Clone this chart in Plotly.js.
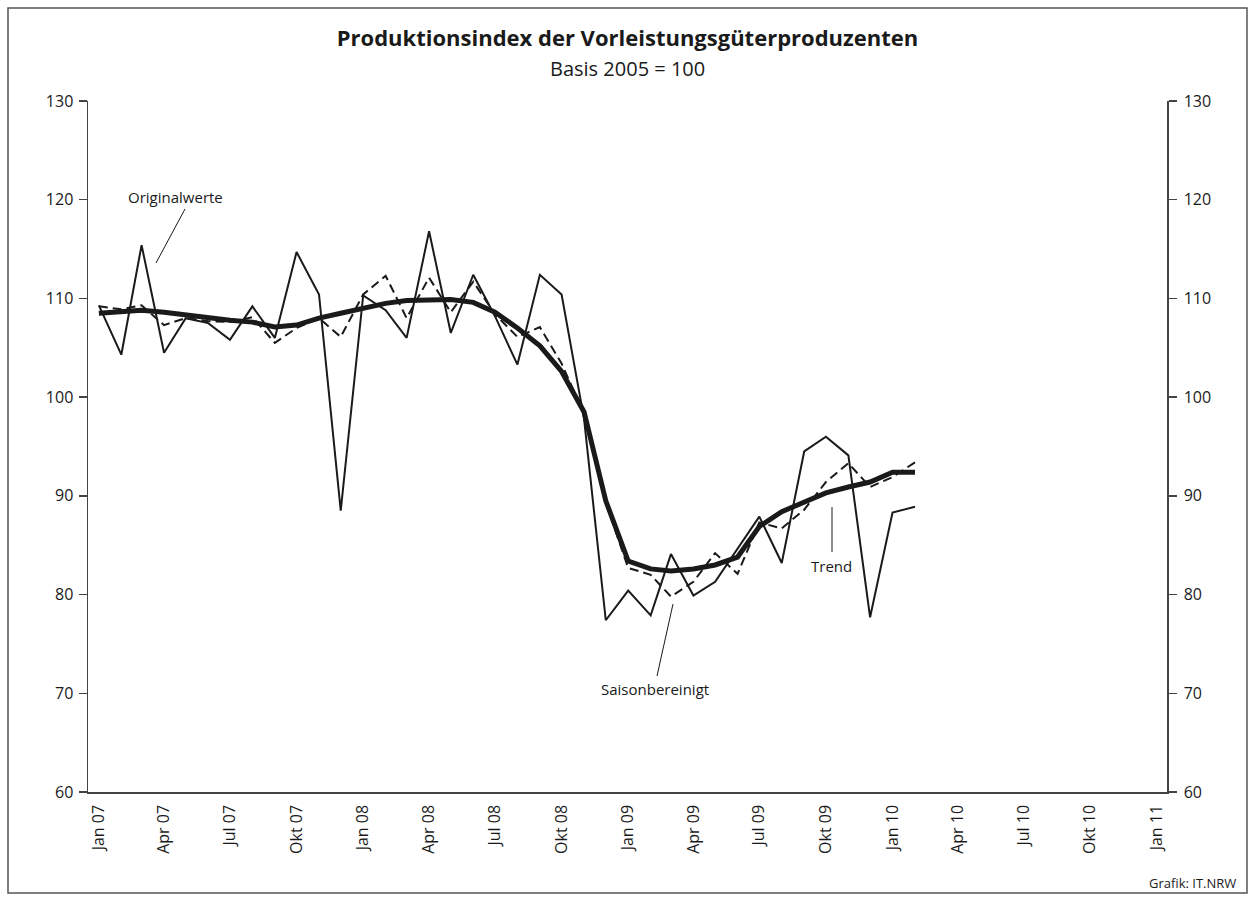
<!DOCTYPE html>
<html>
<head>
<meta charset="utf-8">
<script src="https://cdn.plot.ly/plotly-3.0.1.min.js"></script>
<style>
  html, body { margin: 0; padding: 0; background: #ffffff; }
  #chart { width: 1254px; height: 901px; }
</style>
</head>
<body>
<div id="chart"></div>
<script>
// Months (Jan 2007 – Feb 2010)
var months = [
  "2007-01-01","2007-02-01","2007-03-01","2007-04-01","2007-05-01","2007-06-01",
  "2007-07-01","2007-08-01","2007-09-01","2007-10-01","2007-11-01","2007-12-01",
  "2008-01-01","2008-02-01","2008-03-01","2008-04-01","2008-05-01","2008-06-01",
  "2008-07-01","2008-08-01","2008-09-01","2008-10-01","2008-11-01","2008-12-01",
  "2009-01-01","2009-02-01","2009-03-01","2009-04-01","2009-05-01","2009-06-01",
  "2009-07-01","2009-08-01","2009-09-01","2009-10-01","2009-11-01","2009-12-01",
  "2010-01-01","2010-02-01"
];

var originalwerte = [
  109.3, 104.3, 115.4, 104.5, 108.0, 107.5, 105.8, 109.2, 106.0, 114.7, 110.4, 88.5,
  110.3, 108.8, 106.0, 116.8, 106.5, 112.4, 108.2, 103.3, 112.4, 110.4, 97.8, 77.4,
  80.4, 77.9, 84.1, 79.9, 81.3, 84.6, 87.9, 83.2, 94.5, 96.0, 94.1, 77.7,
  88.3, 88.9
];

var saisonbereinigt = [
  109.2, 108.9, 109.3, 107.3, 108.0, 107.7, 107.6, 108.1, 105.5, 107.0, 108.0, 106.1,
  110.4, 112.3, 108.0, 112.1, 108.6, 111.7, 108.4, 106.1, 107.1, 103.4, 98.3, 89.3,
  82.7, 82.0, 79.8, 81.3, 84.2, 82.1, 87.3, 86.7, 88.6, 91.4, 93.3, 90.9,
  91.9, 93.4
];

var trend = [
  108.5, 108.7, 108.8, 108.6, 108.3, 108.0, 107.8, 107.6, 107.1, 107.3, 108.0, 108.5,
  109.0, 109.5, 109.8, 109.9, 109.9, 109.6, 108.6, 107.0, 105.2, 102.6, 98.5, 89.5,
  83.4, 82.6, 82.4, 82.6, 83.0, 83.8, 86.9, 88.4, 89.4, 90.3, 90.9, 91.4,
  92.4, 92.4
];

var tickDates = [
  "2007-01-01","2007-04-01","2007-07-01","2007-10-01",
  "2008-01-01","2008-04-01","2008-07-01","2008-10-01",
  "2009-01-01","2009-04-01","2009-07-01","2009-10-01",
  "2010-01-01","2010-04-01","2010-07-01","2010-10-01",
  "2011-01-01"
];
var tickLabels = [
  "Jan 07","Apr 07","Jul 07","Okt 07",
  "Jan 08","Apr 08","Jul 08","Okt 08",
  "Jan 09","Apr 09","Jul 09","Okt 09",
  "Jan 10","Apr 10","Jul 10","Okt 10",
  "Jan 11"
];
var yTicks = [60, 70, 80, 90, 100, 110, 120, 130];

// layout geometry (pixels)
var W = 1254, H = 901;
var L = 88, R = 87, T = 101, B = 109;
var plotW = W - L - R, plotH = H - T - B;
function px(x) { return (x - L) / plotW; }
function py(y) { return (H - B - y) / plotH; }

var FONT = "Open Sans, Noto Sans, DejaVu Sans, sans-serif";
var ink = "#1a1a1a";

var traces = [
  {
    x: months, y: originalwerte, type: "scatter", mode: "lines",
    name: "Originalwerte",
    line: { color: ink, width: 2 }, hoverinfo: "x+y"
  },
  {
    x: months, y: saisonbereinigt, type: "scatter", mode: "lines",
    name: "Saisonbereinigt",
    line: { color: ink, width: 2, dash: "9px,5px" }, hoverinfo: "x+y"
  },
  {
    x: months, y: trend, type: "scatter", mode: "lines",
    name: "Trend",
    line: { color: ink, width: 5 }, hoverinfo: "x+y"
  },
  {
    // invisible trace to carry the right-hand axis
    x: [months[0]], y: [trend[0]], yaxis: "y2", type: "scatter", mode: "lines",
    line: { width: 0 }, showlegend: false, hoverinfo: "skip", opacity: 0
  }
];

var lineShape = function (x0, y0, x1, y1, w) {
  return { type: "line", xref: "paper", yref: "paper",
           x0: px(x0), y0: py(y0), x1: px(x1), y1: py(y1),
           line: { color: ink, width: w || 1 } };
};

var layout = {
  width: W, height: H,
  margin: { l: L, r: R, t: T, b: B, pad: 0 },
  paper_bgcolor: "#ffffff", plot_bgcolor: "#ffffff",
  showlegend: false,
  font: { family: FONT, color: ink, size: 16 },
  title: {
    text: "<b>Produktionsindex der Vorleistungsgüterproduzenten</b>",
    font: { family: FONT, size: 22, color: ink },
    x: 0.5, xref: "paper", xanchor: "center",
    y: 1 - 38 / H, yref: "container", yanchor: "middle"
  },
  xaxis: {
    type: "date",
    range: ["2006-12-17", "2011-01-15"],
    tickmode: "array", tickvals: tickDates, ticktext: tickLabels,
    tickangle: -90, ticks: "", showgrid: false, zeroline: false,
    showline: true, linecolor: "#444", linewidth: 1.5,
    tickfont: { family: FONT, size: 16, color: ink },
    ticklabelstandoff: 5
  },
  yaxis: {
    range: [60, 130], tickmode: "array", tickvals: yTicks,
    ticks: "outside", ticklen: 8, tickcolor: "#444", tickwidth: 1.5,
    showgrid: false, zeroline: false,
    showline: true, linecolor: "#444", linewidth: 1.5,
    tickfont: { family: FONT, size: 16, color: ink },
    ticklabelstandoff: 2
  },
  yaxis2: {
    overlaying: "y", side: "right", range: [60, 130], tickmode: "array", tickvals: yTicks,
    ticks: "outside", ticklen: 8, tickcolor: "#444", tickwidth: 1.5,
    showgrid: false, zeroline: false,
    showline: true, linecolor: "#444", linewidth: 1.5,
    tickfont: { family: FONT, size: 16, color: ink },
    ticklabelstandoff: 4
  },
  annotations: [
    { text: "Basis 2005 = 100", xref: "paper", yref: "paper",
      x: 0.5, y: py(68), xanchor: "center", yanchor: "middle", showarrow: false,
      font: { family: FONT, size: 20, color: ink } },
    { text: "Originalwerte", xref: "paper", yref: "paper",
      x: px(175), y: py(197), xanchor: "center", yanchor: "middle", showarrow: false,
      font: { family: FONT, size: 15, color: ink } },
    { text: "Saisonbereinigt", xref: "paper", yref: "paper",
      x: px(655), y: py(689), xanchor: "center", yanchor: "middle", showarrow: false,
      font: { family: FONT, size: 15, color: ink } },
    { text: "Trend", xref: "paper", yref: "paper",
      x: px(831), y: py(566), xanchor: "center", yanchor: "middle", showarrow: false,
      font: { family: FONT, size: 15, color: ink } },
    { text: "Grafik: IT.NRW", xref: "paper", yref: "paper",
      x: px(1238), y: py(883), xanchor: "right", yanchor: "middle", showarrow: false,
      font: { family: FONT, size: 13, color: ink } }
  ],
  shapes: [
    lineShape(185, 209, 156, 263, 1),
    lineShape(657, 676, 673, 604, 1),
    lineShape(832, 552, 832, 507, 1),
    { type: "rect", xref: "paper", yref: "paper",
      x0: px(8), y0: py(893), x1: px(1247), y1: py(8),
      line: { color: "#555", width: 1.5 }, fillcolor: "rgba(0,0,0,0)", layer: "below" }
  ]
};

Plotly.newPlot("chart", traces, layout, { displayModeBar: false, staticPlot: true });
</script>
</body>
</html>
